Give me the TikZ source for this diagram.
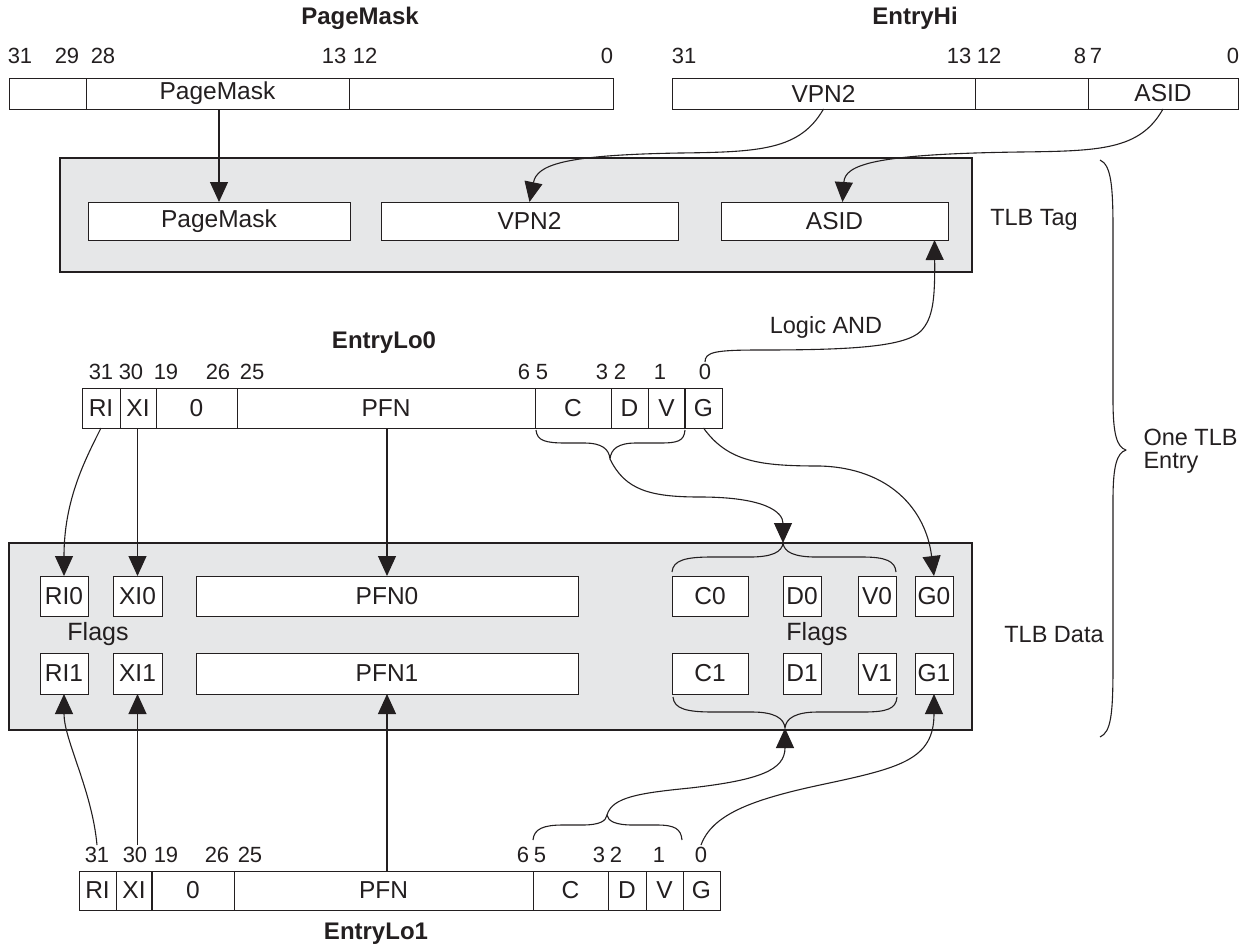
\documentclass[tikz,border=0pt]{standalone}
\usepackage{fontspec}
\setmainfont{Liberation Sans}
\usetikzlibrary{arrows.meta}
\definecolor{ink}{RGB}{35,31,32}
\definecolor{panel}{RGB}{230,231,232}
% register field: name, x1, y1, x2, y2, text
\newcommand\regfield[6]{\node[fld, minimum width={(#4-#2)*1pt}, minimum height={(#5-#3)*1pt}] (#1) at ({(#2+#4)/2},{(#3+#5)/2}) {#6};}
% bit number above a register
\newcommand\bitno[4]{\node[bitn] (#1) at (#2,#3) {#4};}
\begin{document}
\begin{tikzpicture}[x=1pt,y=-1pt,
  every node/.style={font=\fontsize{22}{26}\selectfont, text=ink},
  fld/.style={draw=ink, fill=white, line width=1pt, inner sep=0pt, outer sep=0pt, font=\fontsize{24.5}{28}\selectfont},
  panelbox/.style={draw=ink, fill=panel, line width=1.2pt, inner sep=0pt, outer sep=0pt},
  bitn/.style={inner sep=2pt},
  sidetext/.style={font=\fontsize{23.5}{27}\selectfont},
  regtitle/.style={font=\fontsize{24}{28}\selectfont\bfseries},
  conn/.style={draw=ink, line width=1.1pt, -{Triangle[length=20pt,width=18pt]}},
  wire/.style={draw=ink, line width=1.1pt, line join=round},
  sidelabel/.style={align=left, anchor=west}]
\useasboundingbox (0,0) rectangle (1247,951);

% ---------- PageMask register ----------
\node[regtitle] (pmtitle) at (360,18) {PageMask};
\bitno{pmn31}{20}{56}{31}
\bitno{pmn29}{67}{56}{29}
\bitno{pmn28}{103}{56}{28}
\bitno{pmn13}{334}{56}{13}
\bitno{pmn12}{365}{56}{12}
\bitno{pmn0}{607}{56}{0}
\regfield{pmhi}{9}{78}{86}{109}{}
\regfield{pmmask}{86}{78}{349}{109}{PageMask}
\regfield{pmlo}{349}{78}{613}{109}{}

% ---------- EntryHi register ----------
\node[regtitle] (ehtitle) at (915,18) {EntryHi};
\bitno{ehn31}{684}{56}{31}
\bitno{ehn13}{959}{56}{13}
\bitno{ehn12}{989}{56}{12}
\bitno{ehn8}{1080}{56}{8}
\bitno{ehn7}{1096}{56}{7}
\bitno{ehn0}{1233}{56}{0}
\regfield{ehvpn}{672}{78}{975}{109}{VPN2}
\regfield{ehmid}{975}{78}{1088}{109}{}
\regfield{ehasid}{1088}{78}{1238}{109}{ASID}

% ---------- TLB tag ----------
\node[panelbox, minimum width=912pt, minimum height=114pt] (tag) at (516,215) {};
\regfield{tpm}{88}{202}{350}{240}{PageMask}
\regfield{tvpn}{381}{202}{678}{240}{VPN2}
\regfield{tasid}{721}{202}{948}{240}{ASID}
\node[sidetext] (taglbl) at (1034,220) {TLB Tag};

% ---------- EntryLo0 register ----------
\node[regtitle] (lo0title) at (384,343) {EntryLo0};
\bitno{lo0n31}{101}{372}{31}
\bitno{lo0n30}{131}{372}{30}
\bitno{lo0n19}{166}{372}{19}
\bitno{lo0n26}{218}{372}{26}
\bitno{lo0n25}{252}{372}{25}
\bitno{lo0n6}{524}{372}{6}
\bitno{lo0n5}{542}{372}{5}
\bitno{lo0n3}{602}{372}{3}
\bitno{lo0n2}{620}{372}{2}
\bitno{lo0n1}{660}{372}{1}
\bitno{lo0n0}{705}{372}{0}
\regfield{lo0ri}{82}{388}{120}{428}{RI}
\regfield{lo0xi}{120}{388}{156}{428}{XI}
\regfield{lo0z}{156}{388}{237}{428}{\raisebox{-3pt}{0}}
\regfield{lo0pfn}{237}{388}{535}{428}{PFN}
\regfield{lo0c}{535}{388}{611}{428}{C}
\regfield{lo0d}{611}{388}{648}{428}{D}
\regfield{lo0v}{648}{388}{685}{428}{V}
\regfield{lo0g}{685}{388}{722}{428}{G}
\draw[ink, line width=2.2pt] (lo0g.north west) -- (lo0g.south west);

% ---------- TLB data ----------
\node[panelbox, minimum width=963pt, minimum height=187pt] (data) at (490.5,636.5) {};
\regfield{dri0}{40}{576}{88}{616}{RI0}
\regfield{dxi0}{113}{576}{162}{616}{XI0}
\regfield{dpfn0}{196}{576}{578}{616}{PFN0}
\regfield{dc0}{672}{576}{748}{616}{C0}
\regfield{dd0}{783}{576}{821}{616}{D0}
\regfield{dv0}{858}{576}{896}{616}{V0}
\regfield{dg0}{915}{576}{953}{616}{G0}
\node[sidetext, font=\fontsize{25}{28}\selectfont] (flagsl) at (98,634) {Flags};
\node[sidetext, font=\fontsize{25}{28}\selectfont] (flagsr) at (817,634) {Flags};
\regfield{dri1}{40}{653}{88}{694}{RI1}
\regfield{dxi1}{113}{653}{162}{694}{XI1}
\regfield{dpfn1}{196}{653}{578}{694}{PFN1}
\regfield{dc1}{672}{653}{748}{694}{C1}
\regfield{dd1}{783}{653}{821}{694}{D1}
\regfield{dv1}{858}{653}{896}{694}{V1}
\regfield{dg1}{915}{653}{953}{694}{G1}
\node[sidetext] (datalbl) at (1054,635) {TLB Data};

% ---------- EntryLo1 register ----------
\bitno{lo1n31}{97}{855}{31}
\bitno{lo1n30}{135}{855}{30}
\bitno{lo1n19}{166}{855}{19}
\bitno{lo1n26}{217}{855}{26}
\bitno{lo1n25}{250}{855}{25}
\bitno{lo1n6}{523}{855}{6}
\bitno{lo1n5}{540}{855}{5}
\bitno{lo1n3}{599}{855}{3}
\bitno{lo1n2}{616}{855}{2}
\bitno{lo1n1}{659}{855}{1}
\bitno{lo1n0}{701}{855}{0}
\regfield{lo1ri}{79}{871}{116}{910}{RI}
\regfield{lo1xi}{116}{871}{152}{910}{XI}
\regfield{lo1z}{152}{871}{234}{910}{\raisebox{-3pt}{0}}
\regfield{lo1pfn}{234}{871}{533}{910}{PFN}
\regfield{lo1c}{533}{871}{608}{910}{C}
\regfield{lo1d}{608}{871}{646}{910}{D}
\regfield{lo1v}{646}{871}{683}{910}{V}
\regfield{lo1g}{683}{871}{720}{910}{G}
\draw[ink, line width=2.2pt] (lo1z.north west) -- (lo1z.south west);
\node[regtitle] (lo1title) at (376,934) {EntryLo1};

% ---------- One TLB entry brace ----------
\coordinate (entrytop) at (1100,160);
\coordinate (entrytip) at (1126,450);
\coordinate (entrybot) at (1100,737);
\draw[wire] (entrytop) .. controls (1111,165) and (1113,185) .. (1113,230)
  -- (1113,400) .. controls (1113,435) and (1117,447) .. (entrytip)
  .. controls (1117,453) and (1113,465) .. (1113,500)
  -- (1113,665) .. controls (1113,715) and (1111,732) .. (entrybot);
\node[sidelabel, sidetext] (entrylbl) at (1140,451) {One TLB\\[-4pt]Entry};

% ---------- tag connectors ----------
\draw[conn] (pmmask.south -| tpm.north) -- (tpm.north);
\draw[conn] (ehvpn.south) .. controls (800,150) and (760,152) .. (680,153)
  .. controls (562,155) and (537,165) .. (tvpn.north);
\draw[conn] (ehasid.south) .. controls (1140,150) and (1100,151) .. (1020,152)
  .. controls (872,154) and (845,165) .. ([xshift=8pt]tasid.north);
\draw[conn] (lo0n0.north) .. controls (705,352) and (715,350) .. (760,350)
  .. controls (850,350) and (905,347) .. (921,331)
  .. controls (933,318) and (935,300) .. ([xshift=100pt]tasid.south);
\node[sidetext] (andlbl) at (826,327) {Logic AND};

% ---------- EntryLo0 to TLB data ----------
\draw[conn] (lo0ri.south) .. controls (85,460) and (64,500) .. (dri0.north);
\draw[conn] (dxi0.north |- lo0xi.south) -- (dxi0.north);
\draw[conn] (dpfn0.north |- lo0pfn.south) -- (dpfn0.north);
\coordinate (lo0bl) at (536,430);
\coordinate (lo0br) at (685,430);
\coordinate (lo0bt) at (610,459);
\draw[wire] (lo0bl) .. controls (537,441) and (546,443) .. (566,443) -- (584,443)
  .. controls (602,443) and (609,449) .. (lo0bt)
  .. controls (611,449) and (618,443) .. (636,443) -- (660,443)
  .. controls (678,443) and (684,441) .. (lo0br);
\coordinate (d0bl) at (672,572);
\coordinate (d0br) at (896,572);
\coordinate (d0bt) at (783,543);
\draw[wire] (d0bl) .. controls (673,560) and (686,557) .. (712,557) -- (750,557)
  .. controls (772,557) and (782,552) .. (d0bt)
  .. controls (784,552) and (794,557) .. (816,557) -- (862,557)
  .. controls (886,557) and (895,561) .. (d0br);
\draw[conn] (lo0bt) .. controls (625,490) and (650,497) .. (700,497)
  .. controls (765,497) and (783,512) .. (d0bt);
\draw[conn] (lo0g.south) .. controls (728,462) and (760,466) .. (820,466)
  .. controls (890,468) and (926,510) .. (dg0.north);

% ---------- EntryLo1 to TLB data ----------
\draw[conn] (lo1n31.north) .. controls (92,790) and (64,740) .. (dri1.south);
\draw[conn] (dxi1.south |- lo1n30.north) -- (dxi1.south);
\draw[conn] (dpfn1.south |- lo1pfn.north) -- (dpfn1.south);
\coordinate (lo1bl) at (533,840);
\coordinate (lo1br) at (682,840);
\coordinate (lo1bt) at (607,815);
\draw[wire] (lo1bl) .. controls (534,829) and (543,825) .. (563,825) -- (582,825)
  .. controls (600,825) and (606,821) .. (lo1bt)
  .. controls (608,821) and (615,825) .. (633,825) -- (657,825)
  .. controls (675,825) and (681,829) .. (lo1br);
\coordinate (d1bl) at (673,697);
\coordinate (d1br) at (897,697);
\coordinate (d1bt) at (785,728);
\draw[wire] (d1bl) .. controls (674,709) and (687,712) .. (713,712) -- (752,712)
  .. controls (774,712) and (784,718) .. (d1bt)
  .. controls (786,718) and (796,712) .. (818,712) -- (863,712)
  .. controls (887,712) and (896,709) .. (d1br);
\draw[conn] (lo1bt) .. controls (612,797) and (640,793) .. (690,788)
  .. controls (760,780) and (785,770) .. (d1bt);
\draw[conn] (lo1n0.north) .. controls (712,815) and (750,800) .. (820,785)
  .. controls (900,768) and (934,760) .. (dg1.south);
\end{tikzpicture}
\end{document}
